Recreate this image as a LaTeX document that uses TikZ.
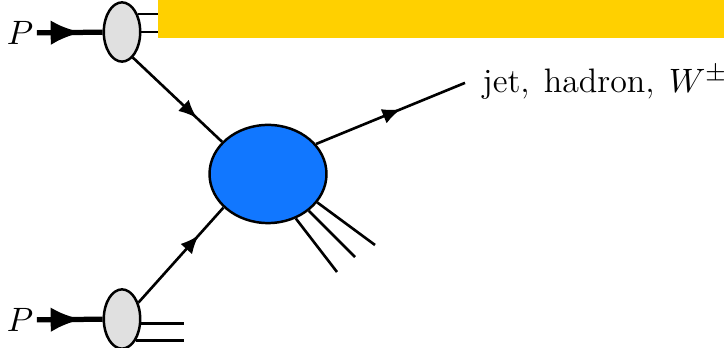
\documentclass[tikz,border=0pt]{standalone}
\usetikzlibrary{shapes.geometric,arrows.meta,decorations.markings}
\definecolor{giallo}{RGB}{255,208,0}
\definecolor{blu}{RGB}{17,119,255}
\definecolor{grigio}{RGB}{224,224,224}
\tikzset{
  protone/.style={ellipse, draw, line width=0.8pt, fill=grigio, minimum width=11.8pt, minimum height=19.2pt, inner sep=0pt},
  vertice/.style={ellipse, draw, line width=0.8pt, fill=blu, minimum width=37.9pt, minimum height=31.8pt, inner sep=0pt},
  etichetta/.style={font=\fontsize{11}{13}\selectfont},
  linea/.style={line width=0.85pt},
  freccia/.style={linea, decoration={markings, mark=at position #1 with {\arrow{Latex[length=6pt,width=5pt]}}}, postaction={decorate}},
  fascio/.style={line width=1.7pt, decoration={markings, mark=at position #1 with {\arrow{Latex[length=10pt,width=8pt]}}}, postaction={decorate}},
}
\begin{document}
\begin{tikzpicture}[x=0.324pt,y=-0.324pt]
    \useasboundingbox (0,0) rectangle (724,348);

    % Protoni
    \node[protone] (ptop) at (122,32) {};
    \node[protone] (pbot) at (122,319) {};
    \node[etichetta, inner sep=1pt] (Ptop) at (20,33) {$P$};
    \node[etichetta, inner sep=1pt] (Pbot) at (20,320) {$P$};
    \draw[fascio=0.68] (Ptop) -- (ptop);
    \draw[fascio=0.68] (Pbot) -- (pbot);

    % Resti
    \draw[linea] (ptop.49) -- ++(45,0);
    \draw[linea] (ptop.east) -- ++(45,0);
    \draw[linea] (pbot.-13) -- ++(43,0);
    \draw[linea] (pbot.-57) -- ++(48,0);

    % Barra gialla
    \fill[giallo] (158,0) rectangle (724,38);

    % Vertice duro
    \node[vertice] (blob) at (268,174) {};
    \draw[freccia=0.72] (ptop.-67) -- (blob.145);
    \draw[freccia=0.71] (pbot.45) -- (blob.217);

    % Stato finale
    \node[etichetta, anchor=base west, inner xsep=5.5pt, inner ysep=0pt] (out) at (465,93) {jet,\hspace{1pt} hadron,\hspace{1pt} $W^\pm$};
    \draw[freccia=0.57] (blob.32) -- (out.west);

    \coordinate (j1) at (337,272);
    \coordinate (j2) at (355,257);
    \coordinate (j3) at (375,245);
    \draw[linea] (blob.-58) -- (j1);
    \draw[linea] (blob.-42) -- (j2);
    \draw[linea] (blob.-30) -- (j3);
\end{tikzpicture}
\end{document}
